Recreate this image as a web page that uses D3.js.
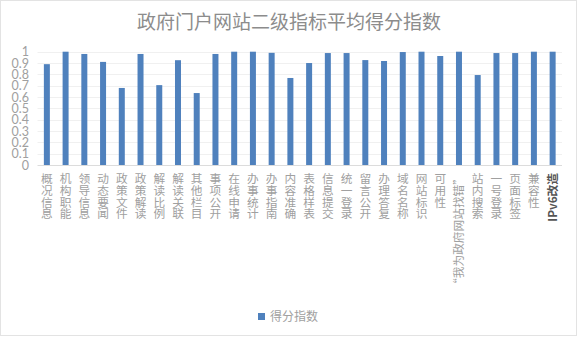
<!DOCTYPE html>
<html><head><meta charset="utf-8">
<script src="https://cdn.jsdelivr.net/npm/d3@7"></script>
<style>
html,body{margin:0;padding:0;background:#fff;}
svg{display:block;}
</style></head>
<body>
<svg id="chart" width="578" height="338"></svg>
<script>
const title = "政府门户网站二级指标平均得分指数";
const seriesName = "得分指数";
const categories = ["概况信息","机构职能","领导信息","动态要闻","政策文件","政策解读","解读比例","解读关联","其他栏目","事项公开","在线申请","办事统计","办事指南","内容准确","表格样表","信息提交","统一登录","留言公开","办理答复","域名名称","网站标识","可用性","“我为政府网站找错”","站内搜索","一号登录","页面标签","兼容性","IPv6改造"];
const values = [0.89,1.0,0.98,0.91,0.68,0.98,0.705,0.925,0.635,0.98,1.0,1.0,0.99,0.768,0.9,0.988,0.988,0.926,0.918,0.997,1.0,0.962,1.0,0.794,0.988,0.988,1.0,1.0];
const yTicks = [0,0.1,0.2,0.3,0.4,0.5,0.6,0.7,0.8,0.9,1];

const svg = d3.select("#chart");
const W = 578, H = 338;
const m = {left:37.5, right:16};
const x = d3.scaleBand().domain(categories).range([m.left, W - m.right]).paddingInner(0.68).paddingOuter(0.34);
const y = d3.scaleLinear().domain([0,1]).range([165, 51.7]);
const cjk = "'Noto Sans CJK SC', sans-serif";

// chart border
svg.append("rect").attr("x",0.5).attr("y",0.5).attr("width",576).attr("height",335)
  .attr("fill","#fff").attr("stroke","#e3e3e3");

// title
svg.append("text").attr("x",289).attr("y",29).attr("text-anchor","middle")
  .attr("font-family",cjk).attr("font-size",19)
  .attr("fill","#8c8c8c").text(title);

// gridlines
svg.append("g").selectAll("line").data(yTicks.filter(d=>d>0)).join("line")
  .attr("x1", m.left).attr("x2", W - m.right)
  .attr("y1", d=>Math.round(y(d))+0.5).attr("y2", d=>Math.round(y(d))+0.5)
  .attr("stroke","#f0f0f0");

// y axis labels
const yAxis = d3.axisLeft(y).tickValues(yTicks).tickSize(0).tickPadding(0)
  .tickFormat(d=> d===0 ? "0" : (d===1 ? "1" : d3.format(".1f")(d)));
const yg = svg.append("g").attr("transform","translate(29,0)").call(yAxis);
yg.select(".domain").remove();
yg.selectAll("text").attr("font-family","Lato, 'Open Sans', sans-serif").attr("font-size",12.5).attr("fill","#a0a0a0");

// bars
svg.append("g").selectAll("rect").data(values).join("rect")
  .attr("x",(d,i)=>x(categories[i]))
  .attr("width",x.bandwidth())
  .attr("y",d=>y(d))
  .attr("height",d=>y(0)-y(d))
  .attr("fill","#4f81bd");

// x axis line
svg.append("line").attr("x1",m.left).attr("x2",W-m.right).attr("y1",165.5).attr("y2",165.5).attr("stroke","#dcdcdc");

// x labels
const fs = 11.7, top0 = 173;
const isPureCJK = s => /^[\u4e00-\u9fff]+$/.test(s);
const xl = svg.append("g");
categories.forEach(c => {
  const cx = x(c) + x.bandwidth()/2;
  const g = xl.append("g").attr("transform",`translate(${cx},${top0})`);
  if (isPureCJK(c)) {
    g.append("text")
      .attr("x",0).attr("y",0)
      .attr("text-anchor","start")
      .style("writing-mode","vertical-rl")
      .attr("font-family",cjk).attr("font-size",fs).attr("fill","#a0a0a0")
      .text(c);
  } else {
    const bold = c.startsWith("IPv6");
    g.append("text")
      .attr("transform","rotate(-90)")
      .attr("x",0).attr("y",fs*0.36)
      .attr("text-anchor","end")
      .attr("font-family",cjk).attr("font-size",fs)
      .attr("font-weight",bold?"bold":"normal")
      .attr("fill",bold?"#555":"#a0a0a0")
      .text(c);
  }
});

// legend
const lg = svg.append("g");
lg.append("rect").attr("x",258).attr("y",313).attr("width",7).attr("height",7).attr("fill","#4f81bd");
lg.append("text").attr("x",270).attr("y",321).attr("font-family",cjk)
  .attr("font-size",12).attr("fill","#a0a0a0").text(seriesName);
</script>
</body></html>
